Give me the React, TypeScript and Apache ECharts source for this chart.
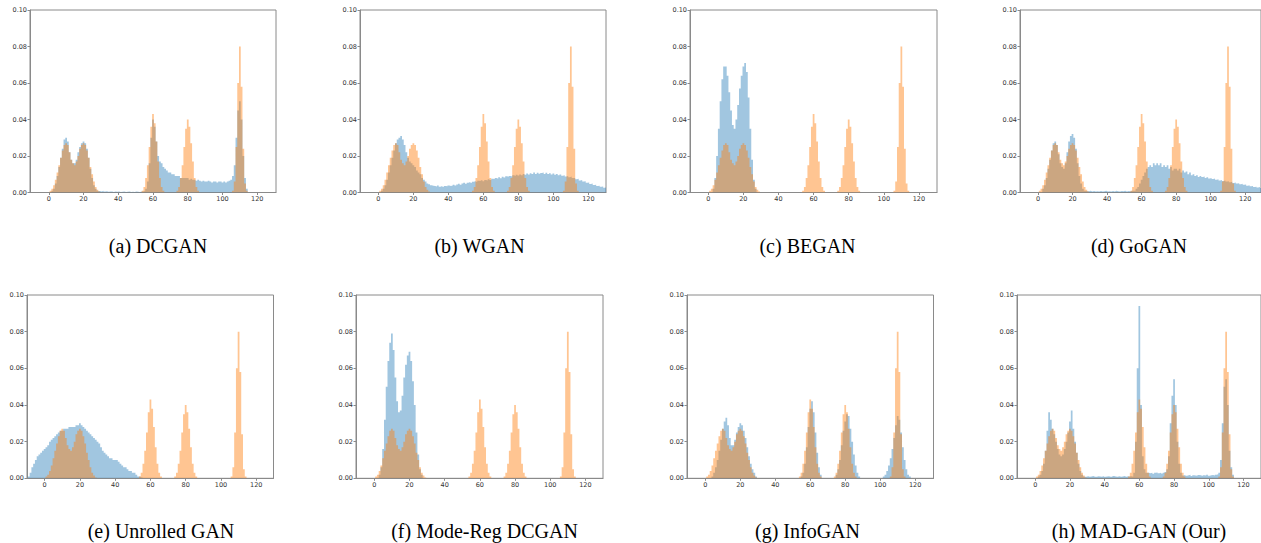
import React, { useEffect, useRef } from "react";
import * as echarts from "echarts";

// Each series: list of [first bin centre x, densities of consecutive 1-unit bins]
type Segment = [number, number[]];

const X_TICKS = [0, 20, 40, 60, 80, 100, 120];
const Y_TICKS = [0, 0.02, 0.04, 0.06, 0.08, 0.1];

// real data (orange)
const REAL: Segment[] = [
  [1, [0.001, 0.002, 0.004, 0.007, 0.011, 0.015, 0.019, 0.023, 0.026, 0.027, 0.026, 0.022, 0.018, 0.016, 0.015, 0.017, 0.02, 0.024, 0.026, 0.027, 0.026, 0.023, 0.019, 0.014, 0.01, 0.006, 0.003, 0.0015, 0.0005]],
  [54, [0.001, 0.003, 0.008, 0.015, 0.025, 0.036, 0.043, 0.038, 0.028, 0.017, 0.008, 0.003, 0.001]],
  [74, [0.001, 0.003, 0.008, 0.015, 0.025, 0.035, 0.04, 0.036, 0.027, 0.017, 0.008, 0.003, 0.001]],
  [106, [0.001, 0.006, 0.025, 0.06, 0.08, 0.058, 0.024, 0.005, 0.001]],
];

const BLUE_A: Segment[] = [
  [2, [0.001, 0.002, 0.005, 0.009, 0.014, 0.019, 0.024, 0.029, 0.03, 0.028, 0.022, 0.018, 0.016, 0.016, 0.018, 0.022, 0.025, 0.027, 0.028, 0.027, 0.024, 0.019, 0.013, 0.008, 0.004, 0.002, 0.001]],
  [29, [0.0008, 0.0006, 0.0009, 0.0005, 0.0007, 0.0004, 0.0006, 0.0005, 0.0003, 0.0005, 0.0004, 0.0006, 0.0003, 0.0004, 0.0005, 0.0003, 0.0004, 0.0006, 0.0003, 0.0004, 0.0003, 0.0005, 0.0004, 0.0003, 0.0005, 0.0006, 0.0008]],
  [56, [0.002, 0.006, 0.016, 0.03, 0.04, 0.036, 0.028, 0.02, 0.017, 0.016, 0.014, 0.013, 0.012, 0.011, 0.011, 0.01, 0.01, 0.009, 0.009, 0.009, 0.008, 0.008, 0.008, 0.008, 0.008, 0.007, 0.0075, 0.007, 0.007, 0.0065, 0.007, 0.0065, 0.006, 0.0065, 0.006, 0.006, 0.0065, 0.006, 0.0055, 0.006, 0.006, 0.0055, 0.006, 0.006, 0.0055, 0.006, 0.0055, 0.006, 0.0065, 0.007, 0.009, 0.015, 0.03, 0.045, 0.05, 0.04, 0.02, 0.008, 0.002]],
];

const BLUE_B: Segment[] = [
  [2, [
    0.001, 0.002, 0.004, 0.007, 0.011, 0.015, 0.019, 0.023, 0.027, 0.029,
    0.03, 0.031, 0.029, 0.026, 0.022, 0.019, 0.017, 0.016, 0.015, 0.014,
    0.012, 0.011, 0.01, 0.008, 0.007, 0.006, 0.005, 0.0045, 0.004, 0.0037,
    0.0035, 0.0033, 0.0038, 0.0032, 0.0035, 0.0031, 0.0036, 0.0034, 0.0039, 0.0036,
    0.0038, 0.0043, 0.0039, 0.0044, 0.0048, 0.0043, 0.0049, 0.0053, 0.0048, 0.0054,
    0.0057, 0.0053, 0.0059, 0.0061, 0.0058, 0.0064, 0.0063, 0.0067, 0.0062, 0.0069,
    0.0066, 0.0073, 0.0069, 0.0076, 0.0074, 0.0079, 0.0076, 0.0083, 0.0078, 0.0086,
    0.0082, 0.0089, 0.0086, 0.0091, 0.0088, 0.0094, 0.0091, 0.0097, 0.0093, 0.0099,
    0.0095, 0.0102, 0.0097, 0.0104, 0.0099, 0.0106, 0.0101, 0.0109, 0.0102, 0.0108,
    0.0103, 0.0107, 0.0110, 0.0102, 0.0108, 0.0101, 0.0106, 0.0099, 0.0104, 0.0097,
    0.0102, 0.0095, 0.0099, 0.0092, 0.0095, 0.0088, 0.0091, 0.0084, 0.0087, 0.0079,
    0.0080, 0.0072, 0.0075, 0.0066, 0.0068, 0.0060, 0.0061, 0.0053, 0.0055, 0.0047,
    0.0049, 0.0041, 0.0043, 0.0036, 0.0037, 0.0031, 0.0033, 0.0026, 0.0028, 0.0024,
  ]],
];

const BLUE_C: Segment[] = [
  [3, [0.002, 0.008, 0.02, 0.035, 0.05, 0.062, 0.069, 0.069, 0.064, 0.055, 0.045, 0.037, 0.035, 0.04, 0.048, 0.057, 0.064, 0.069, 0.071, 0.066, 0.052, 0.035, 0.018, 0.007, 0.002]],
];

const BLUE_D: Segment[] = [
  [3, [0.002, 0.004, 0.008, 0.013, 0.018, 0.023, 0.027, 0.028, 0.026, 0.021, 0.016, 0.014, 0.013, 0.016, 0.022, 0.028, 0.031, 0.032, 0.03, 0.024, 0.016, 0.009, 0.005, 0.002, 0.001]],
  [28, [0.0008, 0.0007, 0.0009, 0.0006, 0.0008, 0.0005, 0.0007, 0.0006, 0.0008, 0.0005, 0.0007, 0.0009, 0.0006, 0.0007, 0.0005, 0.0008, 0.0006, 0.0009, 0.0007, 0.0006, 0.0008, 0.0007, 0.0009, 0.0006, 0.0008, 0.0007, 0.0009, 0.001]],
  [56, [
    0.001, 0.002, 0.003, 0.005, 0.007, 0.009, 0.011, 0.013, 0.014, 0.015,
    0.014, 0.016, 0.015, 0.016, 0.015, 0.016, 0.014, 0.015, 0.014, 0.015,
    0.013, 0.014, 0.012, 0.013, 0.013, 0.012, 0.013, 0.011, 0.012, 0.011,
    0.0115, 0.010, 0.011, 0.0095, 0.010, 0.009, 0.0095, 0.0085, 0.009, 0.0085,
    0.0088, 0.008, 0.0084, 0.0077, 0.008, 0.0074, 0.0077, 0.007, 0.0073, 0.0066,
    0.0069, 0.0063, 0.0066, 0.006, 0.0062, 0.0056, 0.0059, 0.0052, 0.0055, 0.0049,
    0.0051, 0.0045, 0.0048, 0.0042, 0.0044, 0.0037, 0.004, 0.0034, 0.0036, 0.003,
    0.0032, 0.0027, 0.003, 0.0025, 0.0027,
  ]],
];

const BLUE_E: Segment[] = [
  [-9, [
    0.001, 0.003, 0.006, 0.008, 0.01, 0.012, 0.013, 0.014, 0.015, 0.016,
    0.017, 0.018, 0.02, 0.021, 0.022, 0.023, 0.024, 0.025, 0.026, 0.026,
    0.027, 0.027, 0.027, 0.028, 0.028, 0.028, 0.028, 0.029, 0.029, 0.03,
    0.029, 0.028, 0.027, 0.026, 0.025, 0.024, 0.023, 0.022, 0.021, 0.02,
    0.019, 0.017, 0.015, 0.014, 0.013, 0.012, 0.011, 0.011, 0.01, 0.01,
    0.01, 0.009, 0.008, 0.007, 0.006, 0.006, 0.005, 0.004, 0.004, 0.003,
    0.003, 0.002, 0.001, 0.001, 0.0005,
  ]],
];

const BLUE_F: Segment[] = [
  [3, [0.002, 0.006, 0.016, 0.032, 0.05, 0.064, 0.074, 0.079, 0.07, 0.055, 0.042, 0.036, 0.037, 0.045, 0.055, 0.062, 0.067, 0.069, 0.064, 0.053, 0.04, 0.025, 0.013, 0.005, 0.002]],
];

const BLUE_G: Segment[] = [
  [4, [0.001, 0.003, 0.006, 0.01, 0.015, 0.021, 0.027, 0.031, 0.033, 0.029, 0.022, 0.018, 0.018, 0.021, 0.025, 0.028, 0.03, 0.029, 0.026, 0.022, 0.017, 0.012, 0.008, 0.005, 0.003, 0.001]],
  [55, [0.001, 0.003, 0.008, 0.017, 0.028, 0.038, 0.042, 0.036, 0.025, 0.014, 0.006, 0.002]],
  [75, [0.002, 0.005, 0.01, 0.018, 0.026, 0.031, 0.035, 0.034, 0.027, 0.02, 0.013, 0.007, 0.003, 0.001]],
  [102, [0.001, 0.002, 0.004, 0.007, 0.011, 0.016, 0.022, 0.029, 0.034, 0.032, 0.025, 0.017, 0.01, 0.005, 0.002, 0.001]],
];

const BLUE_H: Segment[] = [
  [2, [0.001, 0.002, 0.004, 0.008, 0.015, 0.026, 0.036, 0.032, 0.027, 0.024, 0.02, 0.016, 0.013, 0.012, 0.013, 0.016, 0.02, 0.025, 0.031, 0.037, 0.027, 0.02, 0.014, 0.008, 0.004, 0.002, 0.001]],
  [29, [0.0009, 0.0011, 0.0008, 0.001, 0.0012, 0.0009, 0.0008, 0.0011, 0.001, 0.0009, 0.0012, 0.0008, 0.001, 0.0011, 0.0009, 0.0008, 0.0012, 0.001, 0.0009, 0.0011, 0.0008, 0.001, 0.0012, 0.0009, 0.0011, 0.001, 0.0012]],
  [56, [0.001, 0.003, 0.02, 0.06, 0.094, 0.04, 0.012, 0.005, 0.003, 0.003, 0.0028, 0.003, 0.0025, 0.003, 0.0032, 0.0028, 0.003, 0.0026, 0.003, 0.0035, 0.005, 0.012, 0.03, 0.045, 0.054, 0.04, 0.02, 0.008, 0.003]],
  [85, [0.0015, 0.0018, 0.0014, 0.0016, 0.0019, 0.0013, 0.0017, 0.0015, 0.0014, 0.0018, 0.0016, 0.0013, 0.0017, 0.0015, 0.0019, 0.0014, 0.0016, 0.0018, 0.0015, 0.002, 0.0022]],
  [106, [0.003, 0.01, 0.03, 0.05, 0.054, 0.04, 0.015, 0.006, 0.002]],
];

const CAPTIONS = [
  "(a) DCGAN", "(b) WGAN", "(c) BEGAN", "(d) GoGAN",
  "(e) Unrolled GAN", "(f) Mode-Reg DCGAN", "(g) InfoGAN", "(h) MAD-GAN (Our)",
];
const BLUES = [BLUE_A, BLUE_B, BLUE_C, BLUE_D, BLUE_E, BLUE_F, BLUE_G, BLUE_H];

// layout of panels (pixels) and x-axis limits
const BOXES = [
  { left: 30, top: 10, width: 246, height: 182.5, xmin: -10.8, xmax: 130.8, cx: 158, cy: 246 },
  { left: 360, top: 10, width: 246, height: 182.5, xmin: -10.5, xmax: 130.1, cx: 479.5, cy: 246 },
  { left: 690, top: 10, width: 247, height: 182.5, xmin: -10.4, xmax: 130.3, cx: 807.5, cy: 246 },
  { left: 1020, top: 10, width: 246, height: 182.5, xmin: -10.4, xmax: 129.1, cx: 1139, cy: 246 },
  { left: 27, top: 295, width: 246.5, height: 183.3, xmin: -10, xmax: 129.8, cx: 161, cy: 531 },
  { left: 356, top: 295, width: 247, height: 183.3, xmin: -10.4, xmax: 130, cx: 484.5, cy: 531 },
  { left: 687, top: 295, width: 246.5, height: 183.3, xmin: -10.5, xmax: 130.5, cx: 807.5, cy: 531 },
  { left: 1017, top: 295, width: 246, height: 183.3, xmin: -10.5, xmax: 130.1, cx: 1139, cy: 531 },
];

function toSteps(segs: Segment[]): number[][] {
  const pts: number[][] = [];
  for (const [s, vals] of segs) {
    vals.forEach((v, k) => pts.push([s + k - 0.5, v]));
    pts.push([s + vals.length - 0.5, 0]);
  }
  return pts;
}

const SPINE = "#8a8a8a";
const CAPTION_FONT = "'Liberation Serif', 'Times New Roman', Times, serif";

export default function App() {
  const ref = useRef<HTMLDivElement>(null);
  useEffect(() => {
    if (!ref.current) return;
    const chart = echarts.init(ref.current, undefined, { renderer: "svg" });
    const grids: any[] = [];
    const xAxes: any[] = [];
    const yAxes: any[] = [];
    const series: any[] = [];
    const graphics: any[] = [];
    BOXES.forEach((b, i) => {
      grids.push({
        left: b.left, top: b.top, width: b.width, height: b.height,
        show: true, borderColor: SPINE, borderWidth: 1, backgroundColor: "transparent",
        containLabel: false,
      });
      xAxes.push({
        type: "value", gridIndex: i, min: b.xmin, max: b.xmax,
        axisLine: { show: true, onZero: false, lineStyle: { color: SPINE, width: 1 } },
        axisTick: { show: true, length: 2.5, lineStyle: { color: SPINE }, customValues: X_TICKS },
        axisLabel: {
          customValues: X_TICKS, fontSize: 6.5, fontFamily: "DejaVu Sans", color: "#333", margin: 3,
          formatter: (v: number) => String(v),
        },
        splitLine: { show: false },
      });
      yAxes.push({
        type: "value", gridIndex: i, min: Y_TICKS[0], max: Y_TICKS[Y_TICKS.length - 1], interval: 0.02,
        axisLine: { show: true, onZero: false, lineStyle: { color: SPINE, width: 1 } },
        axisTick: { show: true, length: 2.5, lineStyle: { color: SPINE } },
        axisLabel: {
          fontSize: 6.5, fontFamily: "DejaVu Sans", color: "#333", margin: 3,
          formatter: (v: number) => v.toFixed(2),
        },
        splitLine: { show: false },
      });
      const common = {
        type: "line", xAxisIndex: i, yAxisIndex: i, step: "end",
        symbol: "none", showSymbol: false, silent: true,
        lineStyle: { width: 0, opacity: 0 },
      };
      series.push({ ...common, data: toSteps(BLUES[i]), areaStyle: { color: "#1f77b4", opacity: 0.42 }, z: 2 });
      series.push({ ...common, data: toSteps(REAL), areaStyle: { color: "#ff7f0e", opacity: 0.45 }, z: 3 });
      graphics.push({
        type: "text", x: b.cx, y: b.cy, silent: true,
        style: {
          text: CAPTIONS[i], fontSize: 20, fontFamily: CAPTION_FONT, fill: "#000",
          align: "center", verticalAlign: "middle", textAlign: "center", textVerticalAlign: "middle",
        },
      });
    });
    chart.setOption({
      animation: false,
      grid: grids,
      xAxis: xAxes,
      yAxis: yAxes,
      series,
      graphic: graphics,
    });
    return () => chart.dispose();
  }, []);
  return (
    <div
      ref={ref}
      style={{ position: "absolute", left: 0, top: 0, width: 1261, height: 543, background: "#fff" }}
    />
  );
}
